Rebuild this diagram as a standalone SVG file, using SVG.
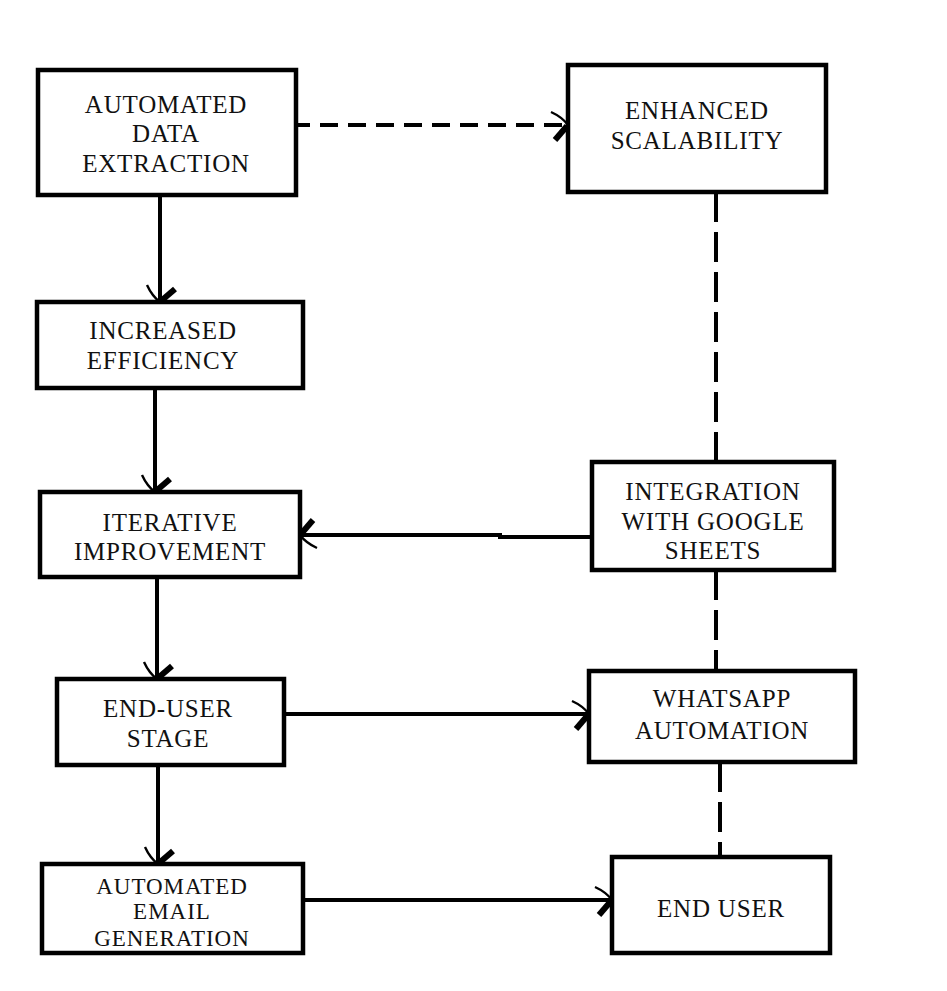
<svg xmlns="http://www.w3.org/2000/svg" width="947" height="991" viewBox="0 0 947 991">
<style>
.box{fill:#fff;stroke:#000;stroke-width:4.5}
.t{font-family:"Liberation Serif","DejaVu Serif",serif;font-size:25px;letter-spacing:0.8px;fill:#111;text-anchor:middle}
.s{font-size:23px;letter-spacing:1px}
.c{fill:none;stroke:#000;stroke-width:4}
.dh{stroke-dasharray:18 10}
.dv{stroke-dasharray:30 10}
</style>
<defs>
<marker id="ah" markerUnits="userSpaceOnUse" markerWidth="40" markerHeight="40" viewBox="-25 -20 40 40" refX="0" refY="0" orient="auto" overflow="visible">
<path d="M-17,-13 Q-6,-8 0,0" fill="none" stroke="#000" stroke-width="2.4"/>
<path d="M-13,15 L-1,1" fill="none" stroke="#000" stroke-width="6"/>
</marker>
<marker id="av" markerUnits="userSpaceOnUse" markerWidth="40" markerHeight="40" viewBox="-25 -20 40 40" refX="0" refY="0" orient="auto" overflow="visible">
<path d="M-17,13 Q-6,8 0,0" fill="none" stroke="#000" stroke-width="2.4"/>
<path d="M-13,-15 L-1,-1" fill="none" stroke="#000" stroke-width="6"/>
</marker>
</defs>
<rect width="947" height="991" fill="#fff"/>
<g id="connectors">
<line class="c" x1="160" y1="196" x2="160" y2="302" marker-end="url(#av)"/>
<line class="c" x1="155" y1="388" x2="155" y2="492" marker-end="url(#av)"/>
<line class="c" x1="157" y1="577" x2="157" y2="679" marker-end="url(#av)"/>
<line class="c" x1="158" y1="765" x2="158" y2="864" marker-end="url(#av)"/>
<line class="c dh" x1="292" y1="125" x2="568" y2="125" marker-end="url(#ah)"/>
<line class="c dv" x1="716" y1="192" x2="716" y2="462"/>
<line class="c dv" x1="716" y1="570" x2="716" y2="671"/>
<line class="c dv" x1="720" y1="762" x2="720" y2="857"/>
<polyline class="c" points="597,537 500,537 500,535 300,535" marker-end="url(#ah)"/>
<line class="c" x1="284" y1="714" x2="589" y2="714" marker-end="url(#ah)"/>
<line class="c" x1="303" y1="900" x2="612" y2="900" marker-end="url(#ah)"/>
</g>
<g id="n1"><rect class="box" x="38" y="70" width="258" height="125"/>
<text class="t" x="166" y="113">AUTOMATED</text><text class="t" x="166" y="142">DATA</text><text class="t" x="166" y="172">EXTRACTION</text></g>
<g id="n2"><rect class="box" x="568" y="65" width="258" height="127"/>
<text class="t" x="697" y="119">ENHANCED</text><text class="t" x="697" y="149">SCALABILITY</text></g>
<g id="n3"><rect class="box" x="37" y="302" width="266" height="86"/>
<text class="t" x="163" y="339">INCREASED</text><text class="t" x="163" y="369">EFFICIENCY</text></g>
<g id="n4"><rect class="box" x="40" y="492" width="260" height="85"/>
<text class="t" x="170" y="531">ITERATIVE</text><text class="t" x="170" y="560">IMPROVEMENT</text></g>
<g id="n5"><rect class="box" x="592" y="462" width="242" height="108"/>
<text class="t" x="713" y="500">INTEGRATION</text><text class="t" x="713" y="530">WITH GOOGLE</text><text class="t" x="713" y="559">SHEETS</text></g>
<g id="n6"><rect class="box" x="57" y="679" width="227" height="86"/>
<text class="t" x="168" y="717">END-USER</text><text class="t" x="168" y="747">STAGE</text></g>
<g id="n7"><rect class="box" x="589" y="671" width="266" height="91"/>
<text class="t" x="722" y="707">WHATSAPP</text><text class="t" x="722" y="739">AUTOMATION</text></g>
<g id="n8"><rect class="box" x="42" y="864" width="261" height="89"/>
<text class="t s" x="172" y="894">AUTOMATED</text><text class="t s" x="172" y="919">EMAIL</text><text class="t s" x="172" y="946">GENERATION</text></g>
<g id="n9"><rect class="box" x="612" y="857" width="218" height="96"/>
<text class="t" x="721" y="917">END USER</text></g>
</svg>
